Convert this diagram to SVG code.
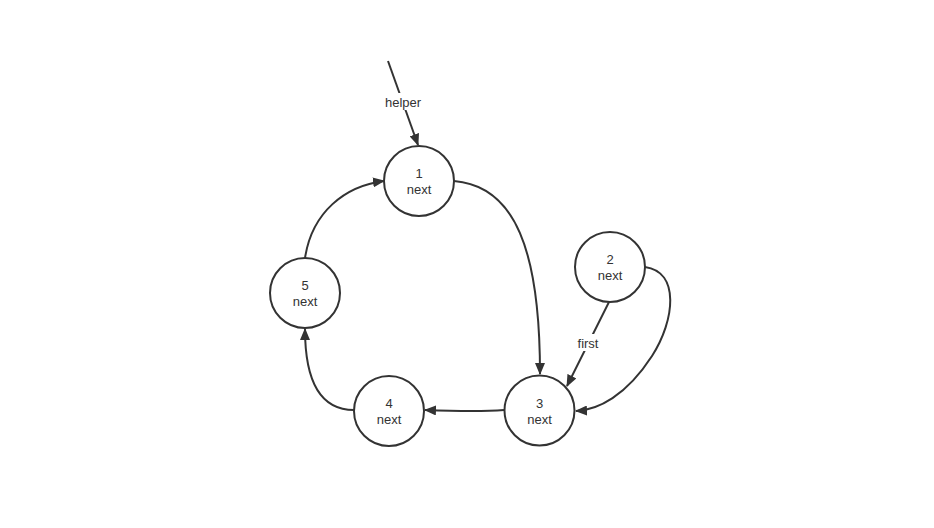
<svg xmlns="http://www.w3.org/2000/svg" width="934" height="528" viewBox="0 0 934 528">
<defs>
<style>
.node circle{fill:#fff;stroke:#333;stroke-width:2}
.node text,.lbl{font-family:"Liberation Sans","Noto Sans",sans-serif;font-size:13px;fill:#333;text-anchor:middle}
.edge{fill:none;stroke:#333;stroke-width:2;marker-end:url(#ah)}
</style>
<marker id="ah" viewBox="0 0 12 10" refX="11" refY="5" markerWidth="12" markerHeight="10" markerUnits="userSpaceOnUse" orient="auto">
<path d="M0,0 L12,5 L0,10 Z" fill="#333"/>
</marker>
</defs>
<rect width="934" height="528" fill="#fff"/>
<g id="connectors">
<path class="edge" d="M388,61 L418,145"/>
<path class="edge" d="M454,181 C515,186 540,250 540,374"/>
<path class="edge" d="M609,302 L567,386"/>
<path class="edge" d="M645,267 C680,272 675,320 652,356 C626,396 598,410 576,411"/>
<path class="edge" d="M504,410 C480,412 450,411 425,410"/>
<path class="edge" d="M354,410 C320,410 305,380 305,329"/>
<path class="edge" d="M305,258 C312,212 345,186 384,181"/>
<rect x="381" y="93" width="44" height="17" fill="#fff"/>
<text class="lbl" x="403" y="107">helper</text>
<rect x="575" y="334" width="27" height="17" fill="#fff"/>
<text class="lbl" x="588" y="348">first</text>
</g>
<g id="n1" class="node"><circle cx="419" cy="181" r="35"/><text x="419" y="178">1</text><text x="419" y="194">next</text></g>
<g id="n2" class="node"><circle cx="610" cy="267" r="35"/><text x="610" y="264">2</text><text x="610" y="280">next</text></g>
<g id="n3" class="node"><circle cx="539.5" cy="410.5" r="35"/><text x="539.5" y="408">3</text><text x="539.5" y="424">next</text></g>
<g id="n4" class="node"><circle cx="389" cy="411" r="35"/><text x="389" y="408">4</text><text x="389" y="424">next</text></g>
<g id="n5" class="node"><circle cx="305" cy="293" r="35"/><text x="305" y="290">5</text><text x="305" y="306">next</text></g>
</svg>
